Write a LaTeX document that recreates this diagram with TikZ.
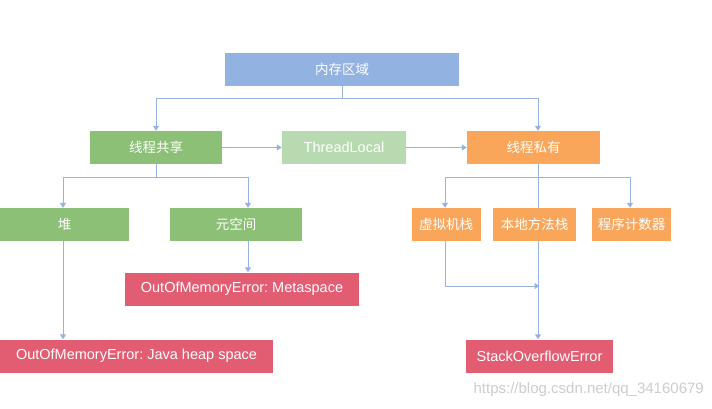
\documentclass[tikz,border=0pt]{standalone}
\usepackage{fontspec}
\setmainfont{Liberation Sans}
\newfontfamily\cjk{Noto Sans CJK SC}
\usetikzlibrary{arrows.meta}
\frenchspacing
\definecolor{cblue}{RGB}{146,178,226}
\definecolor{cgreen}{RGB}{140,192,118}
\definecolor{clgreen}{RGB}{184,218,176}
\definecolor{corange}{RGB}{250,166,90}
\definecolor{cred}{RGB}{226,92,114}
\definecolor{cline}{RGB}{150,180,226}
\definecolor{cwm}{RGB}{205,205,205}
\tikzset{
  box/.style={draw=none,text=white,inner sep=0pt,minimum height=33pt,font=\fontsize{14.5}{16}\selectfont},
  zh/.style={font=\cjk\fontsize{13.5}{16}\selectfont},
  conn/.style={draw=cline,line width=1pt},
  arr/.style={conn,-{Triangle[length=5pt,width=6pt]}},
}
\begin{document}
\begin{tikzpicture}[x=1pt,y=-1pt]
\useasboundingbox[fill=white] (0,0) rectangle (712,408);
% nodes
\node[box,zh,fill=cblue,minimum width=234pt] (mem) at (342,69.5) {内存区域};
\node[box,zh,fill=cgreen,minimum width=132pt] (share) at (156,147.5) {线程共享};
\node[box,fill=clgreen,minimum width=124pt] (tl) at (344,147.5) {ThreadLocal};
\node[box,zh,fill=corange,minimum width=133pt] (priv) at (533.5,147.5) {线程私有};
\node[box,zh,fill=cgreen,minimum width=129pt] (heap) at (64.5,224.5) {堆};
\node[box,zh,fill=cgreen,minimum width=132pt] (meta) at (236,224.5) {元空间};
\node[box,zh,fill=corange,minimum width=69pt] (vm) at (446,224.5) {虚拟机栈};
\node[box,zh,fill=corange,minimum width=83pt] (native) at (534.5,224.5) {本地方法栈};
\node[box,zh,fill=corange,minimum width=79pt] (pc) at (631.5,224.5) {程序计数器};
\node[box,fill=cred,minimum width=234pt] (oommeta) at (242,289) {OutOfMemoryError: Metaspace};
\node[box,fill=cred,minimum width=273pt] (oomheap) at (136.5,356) {OutOfMemoryError: Java heap space};
\node[box,fill=cred,minimum width=147pt] (so) at (539.5,356) {StackOverflowError};
\node[anchor=east,text=cwm,inner sep=0pt,font=\fontsize{15}{16}\selectfont] (wm) at (704,390) {https://blog.csdn.net/qq\_34160679};
% junctions
\coordinate (j1) at (342.5,98);
\coordinate (j2) at (156,177);
\coordinate (j3) at (538,177);
\coordinate (j4) at (445,286);
% connectors
\draw[conn] (mem.south -| j1) -- (j1);
\draw[arr] (j1) -| (share.north);
\draw[arr] (j1) -| (priv.north -| j3);
\draw[arr] (share.east) -- (tl.west);
\draw[arr] (tl.east) -- (priv.west);
\draw[conn] (share.south) -- (j2);
\draw[arr] (j2) -| (heap.north -| 63,0);
\draw[arr] (j2) -| (meta.north -| 248,0);
\draw[conn] (priv.south -| j3) -- (native.north -| j3);
\draw[arr] (j3) -| (vm.north -| j4);
\draw[arr] (j3) -| (pc.north -| 630,0);
\draw[arr] (heap.south -| 63,0) -- (oomheap.north -| 63,0);
\draw[arr] (meta.south -| 248,0) -- (oommeta.north -| 248,0);
\draw[conn] (vm.south -| j4) -- (j4);
\draw[arr] (j4) -- (j4 -| so.north);
\draw[arr] (native.south -| j3) -- (so.north -| j3);
\end{tikzpicture}
\end{document}
